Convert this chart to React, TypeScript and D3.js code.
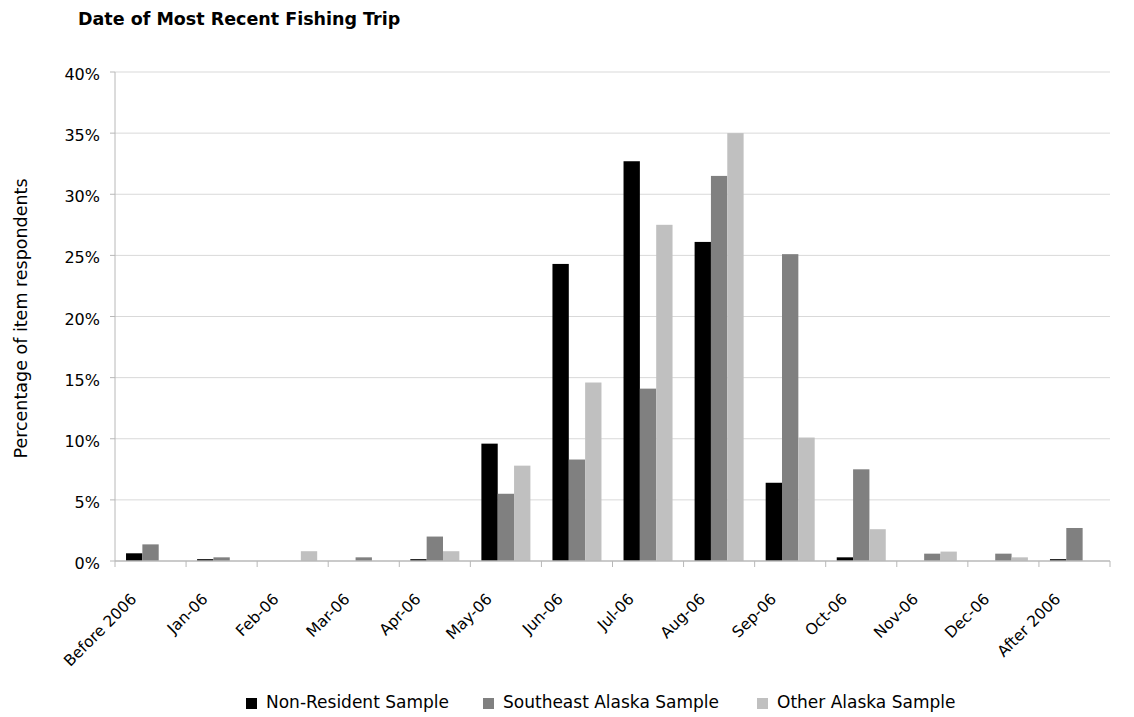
import React from "react";
import * as d3 from "d3";

const categories = ["Before 2006","Jan-06","Feb-06","Mar-06","Apr-06","May-06","Jun-06","Jul-06","Aug-06","Sep-06","Oct-06","Nov-06","Dec-06","After 2006"];
const nonResident = [0.63,0.15,0,0,0.15,9.6,24.3,32.7,26.1,6.4,0.3,0,0,0.15];
const southeast = [1.36,0.3,0,0.3,2.0,5.5,8.3,14.1,31.5,25.1,7.5,0.6,0.6,2.7];
const otherAlaska = [0,0,0.8,0,0.8,7.8,14.6,27.5,35.0,10.1,2.6,0.77,0.3,0];
const seriesNames = ["Non-Resident Sample","Southeast Alaska Sample","Other Alaska Sample"];
const seriesColors = ["#000000","#808080","#c0c0c0"];
const yTicks = [0,5,10,15,20,25,30,35,40];

const W = 1134, H = 717;
const M = { left: 115, right: 1110, top: 72, bottom: 561 };
const FONT = "'DejaVu Sans', sans-serif";

export default function App() {
  const series = [nonResident, southeast, otherAlaska];
  const x = d3.scaleBand<string>().domain(categories).range([M.left, M.right]).paddingInner(0).paddingOuter(0);
  const y = d3.scaleLinear().domain([0, 40]).range([M.bottom, M.top]);
  const step = x.bandwidth();
  const gap = 1.35;
  const barW = step / (3 + gap);
  const x1 = d3.scaleBand<number>().domain([0,1,2]).range([step*gap/(3+gap)/2, step - step*gap/(3+gap)/2]);

  const legendText = [266, 503, 777];

  return (
    <svg width={W} height={H} style={{ position: "absolute", left: 0, top: 0, background: "#fff" }} fontFamily={FONT}>
      <text x={78} y={25} fontSize={17.5} fontWeight="bold" fill="#000">Date of Most Recent Fishing Trip</text>
      {yTicks.map(t => (
        <g key={t}>
          {t > 0 && <line x1={M.left} x2={M.right} y1={y(t)} y2={y(t)} stroke="#d9d9d9" strokeWidth={1} />}
          <line x1={M.left - 5} x2={M.left} y1={y(t)} y2={y(t)} stroke="#b8b8b8" />
          <text x={100} y={y(t)} dy="0.5em" textAnchor="end" fontSize={16} fill="#000">{t}%</text>
        </g>
      ))}
      <text transform={`translate(27,${(M.top + M.bottom) / 2 + 2}) rotate(-90)`} textAnchor="middle" fontSize={17.5} fill="#000">Percentage of item respondents</text>
      {categories.map((c, i) => (
        <g key={c}>
          {series.map((s, k) => (
            s[i] > 0 ? <rect key={k} x={(x(c) as number) + (x1(k) as number)} y={y(s[i])} width={barW} height={y(0) - y(s[i])} fill={seriesColors[k]} /> : null
          ))}
        </g>
      ))}
      <line x1={M.left} x2={M.left} y1={M.top} y2={M.bottom} stroke="#b8b8b8" />
      <line x1={M.left} x2={M.right} y1={M.bottom} y2={M.bottom} stroke="#b8b8b8" strokeWidth={1.5} />
      {categories.map((c, i) => (
        <line key={"t" + i} x1={(x(c) as number)} x2={(x(c) as number)} y1={M.bottom} y2={M.bottom + 6} stroke="#b8b8b8" />
      ))}
      <line x1={M.right} x2={M.right} y1={M.bottom} y2={M.bottom + 6} stroke="#b8b8b8" />
      {categories.map(c => {
        const cx = (x(c) as number) + step / 2 - 13;
        return (
          <text key={"l" + c} transform={`translate(${cx},${M.bottom + 39}) rotate(-45)`} textAnchor="end" fontSize={15.5} fill="#000">{c}</text>
        );
      })}
      {seriesNames.map((n, k) => (
        <g key={n}>
          <rect x={legendText[k] - 20} y={698} width={11} height={11} fill={seriesColors[k]} />
          <text x={legendText[k]} y={708} fontSize={17} fill="#000">{n}</text>
        </g>
      ))}
    </svg>
  );
}
